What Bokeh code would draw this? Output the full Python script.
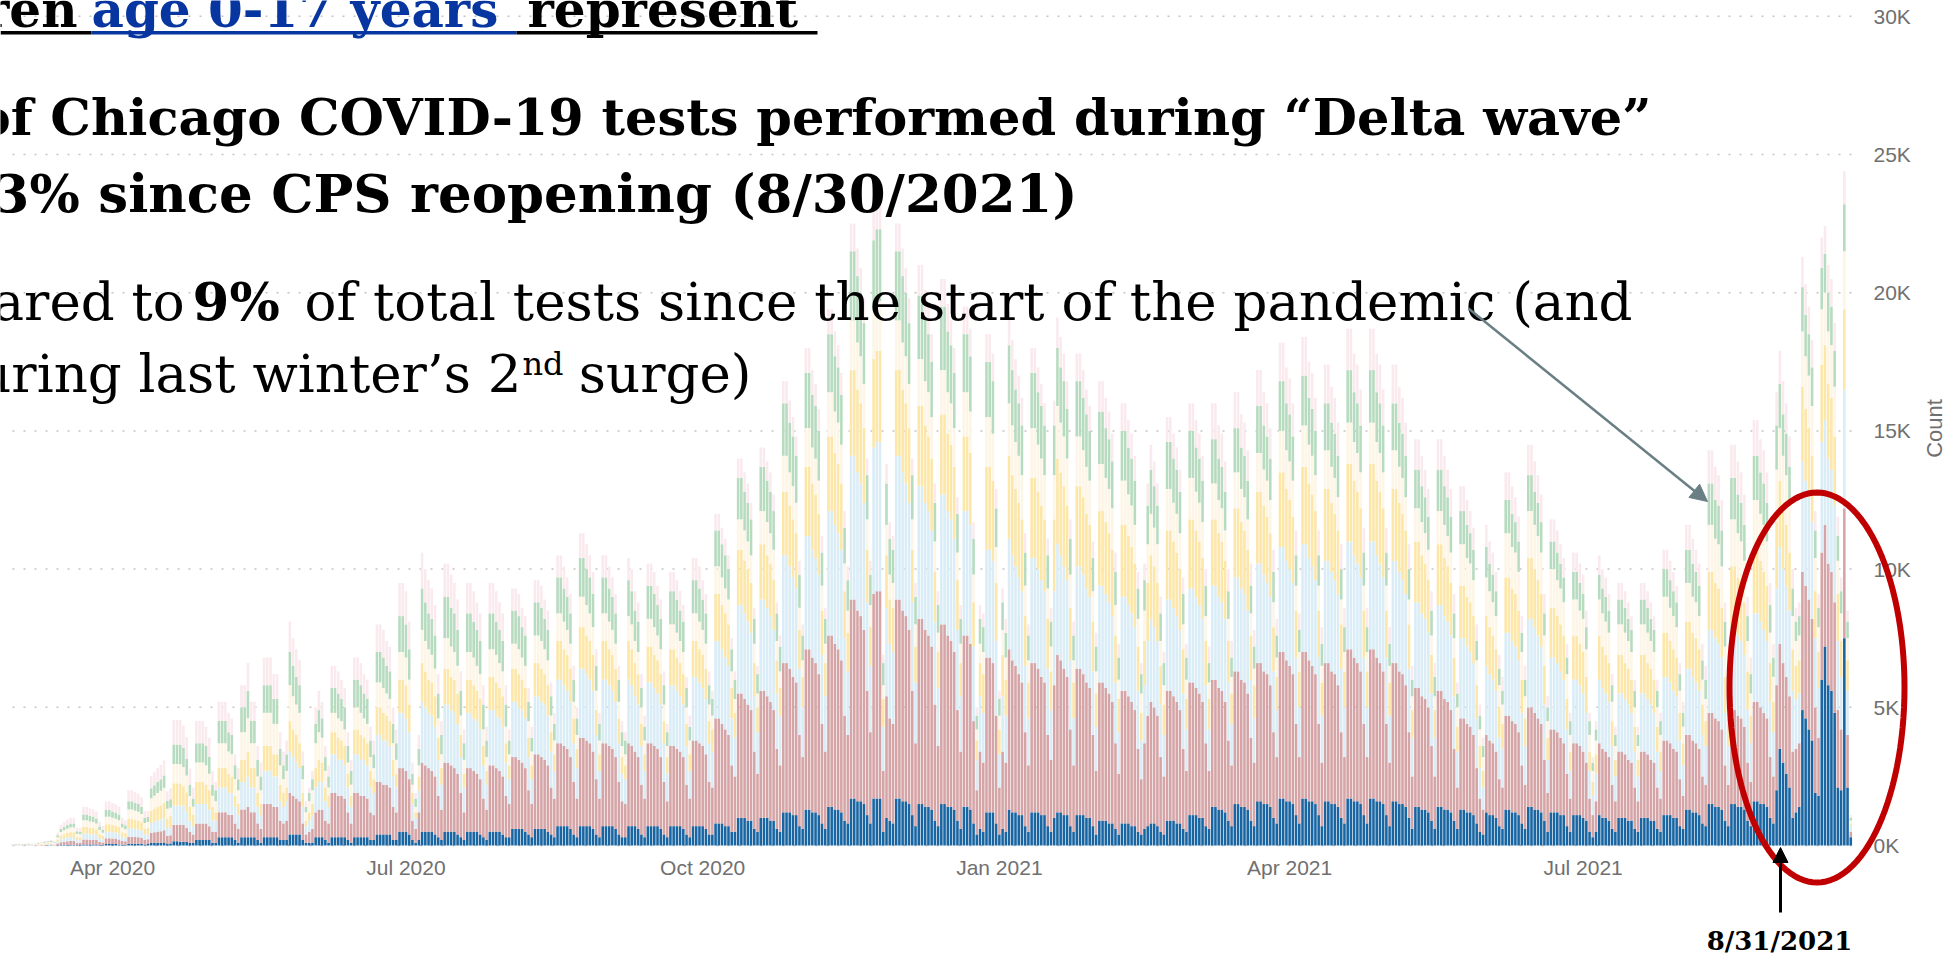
import math
from datetime import datetime, timedelta
from bokeh.plotting import figure
from bokeh.models import (ColumnDataSource, FixedTicker, DatetimeTickFormatter, CustomJSTickFormatter,
                          Label, Arrow, NormalHead, PolyAnnotation, BoxAnnotation, Range1d)
from bokeh.embed import file_html
from bokeh.resources import INLINE

first_day = datetime(2020, 3, 1)
age_groups = ["0-17", "18-29", "30-39", "40-49", "50-59", "60-69", "70+"]
colors = ["#1865a2", "#d5a4a6", "#daedf7", "#fce6a8", "#fdf5e6", "#b7dbbf", "#faeaee"]
tick_dates = [datetime(2020, 4, 1), datetime(2020, 7, 1), datetime(2020, 10, 1),
              datetime(2021, 1, 1), datetime(2021, 4, 1), datetime(2021, 7, 1)]
count_ticks = [0, 5000, 10000, 15000, 20000, 25000, 30000]

# daily tests, in hundreds, one row per week (Sun..Sat), from 2020-03-01
age_0_17 = [
0,0,0,0,0,0,0,
0,0,0,0,.1,.1,0,
.1,.2,.3,.3,.3,.3,.2,
.2,.4,.4,.4,.4,.4,.2,
.2,.5,.5,.5,.5,.4,.3,
.3,.6,.6,.6,.6,.5,.4,
.5,.9,1,1,1,1.1,.7,
.7,1.5,1.5,1.4,1.4,1.3,.9,
1,2,2,2,2,2,1,
1,3,3,3,3,3,2,
1,3,3,3,3,3,2,
1,3,3,3,3,3,2,
2,2,4,4,4,4,2,
1,1,1,3,3,3,2,
1,3,3,3,3,3,2,
1,3,3,3,3,3,2,
2,4,4,4,4,4,2,
2,5,5,5,4,2,1,
2,5,5,5,5,4,3,
2,5,5,5,5,4,3,
2,5,5,5,5,4,3,
2,5,5,5,5,4,3,
3,6,6,6,6,5,4,
3,6,6,6,6,5,4,
3,7,7,7,7,6,4,
3,7,7,7,7,6,4,
3,7,7,7,7,6,4,
3,3,7,7,7,6,4,
3,7,7,7,7,6,4,
3,7,7,7,7,6,4,
3,7,7,7,7,6,4,
4,8,8,8,7,7,5,
5,10,10,10,9,9,6,
5,10,10,10,9,9,6,
5,12,12,12,11,11,7,
6,13,13,12,12,11,8,
6,14,14,13,13,12,9,
8,17,17,16,16,15,11,
8,17,17,17,5,10,9,
8,17,17,16,16,15,11,
7,15,15,14,14,13,9,
7,15,15,14,14,13,9,
6,14,14,13,8,4,6,
5,12,12,12,8,4,6,
5,13,12,12,11,11,7,
5,12,12,12,11,11,7,
5,10,12,12,11,11,7,
5,11,11,11,10,10,7,
4,9,9,9,8,8,6,
4,8,8,8,7,7,5,
4,6,7,8,8,7,5,
4,9,9,9,8,8,6,
5,11,11,11,10,10,7,
6,14,14,13,13,12,9,
7,15,15,14,14,13,9,
7,16,16,15,15,14,10,
8,17,17,16,16,15,11,
8,17,17,16,16,15,11,
7,16,16,15,15,14,10,
8,17,17,16,16,15,11,
8,17,17,16,16,15,11,
7,16,16,15,15,14,10,
6,14,14,13,13,12,9,
6,14,14,13,13,12,9,
6,13,13,12,12,11,8,
5,4,12,11,11,10,7,
6,13,13,12,12,11,8,
6,14,14,13,13,12,9,
5,12,12,12,11,11,7,
5,11,11,11,10,9,5,
3,5,11,10,10,9,6,
5,10,10,10,9,9,6,
5,10,10,10,9,9,6,
5,11,11,11,10,10,7,
6,13,13,12,12,11,8,
7,15,15,14,14,13,9,
7,15,15,14,14,13,9,
7,16,16,15,15,14,10,
8,20,35,30,26,21,10,
12,14,49,46,42,38,19,
18,60,72,58,56,48,21,
20,75,21,3]

age_18_29 = [
0,.1,.1,.1,.1,.1,.1,
.1,.1,.2,.2,.2,.3,.2,
.6,1,1.1,1.2,1.3,1.3,.8,
.8,1.8,1.8,1.7,1.7,1.6,1.1,
.9,2.1,2.1,2,2,1.8,1.3,
1.2,2.6,2.6,2.5,2.4,2.3,1.6,
1.8,3.6,3.8,4,4.2,4.4,2.8,
3,6,6,6,6,5,4,
3,6,6,6,6,5,4,
4,9,9,9,8,8,6,
5,10,10,11,9,9,6,
5,12,12,12,11,11,7,
6,7,15,14,13,12,6,
3,4,5,9,10,10,7,
7,16,16,15,15,14,10,
7,16,16,15,15,14,10,
9,19,19,18,18,17,12,
10,23,23,22,20,7,5,
10,25,24,23,22,21,15,
11,25,25,24,23,22,16,
10,23,23,22,21,20,14,
11,24,24,23,22,21,15,
12,26,26,25,24,23,16,
12,27,27,26,25,24,17,
14,30,30,29,28,26,19,
14,32,32,31,30,28,20,
14,30,30,29,28,26,19,
13,12,30,29,27,26,18,
14,30,30,29,28,26,19,
13,29,29,28,27,26,18,
14,31,31,30,29,27,19,
17,38,38,36,35,33,24,
20,45,45,43,42,40,28,
21,46,46,44,43,40,29,
24,54,54,52,50,48,33,
26,58,58,56,54,51,36,
28,62,62,60,58,55,38,
32,72,72,69,67,63,45,
33,74,75,75,22,44,37,
36,72,72,69,67,63,45,
30,67,67,64,62,59,42,
29,65,65,62,60,57,40,
28,62,62,60,37,16,28,
25,56,56,54,39,17,28,
25,58,55,53,51,48,34,
24,54,54,52,50,48,33,
26,48,57,55,53,50,35,
24,53,53,51,49,47,33,
23,50,50,48,47,44,31,
22,48,48,46,45,42,30,
20,31,40,44,42,40,27,
21,47,47,45,44,41,29,
22,48,48,46,45,42,30,
21,46,46,44,43,40,29,
22,48,48,46,45,42,30,
23,50,50,48,47,44,31,
24,53,53,51,49,47,33,
24,53,53,51,49,47,33,
23,50,50,48,47,44,31,
24,54,54,52,50,48,33,
24,54,54,52,50,48,33,
23,50,50,48,47,44,31,
19,43,43,41,40,38,27,
19,42,42,40,39,37,26,
15,33,33,32,31,29,20,
12,9,28,27,26,24,17,
15,34,34,33,32,30,21,
16,36,36,35,33,32,22,
14,30,30,29,28,26,19,
12,26,26,25,24,21,12,
8,11,26,25,24,23,16,
11,24,24,23,22,21,15,
11,24,24,23,22,21,15,
12,27,27,26,25,24,17,
12,27,27,26,25,24,17,
15,33,33,32,31,29,20,
15,34,34,33,32,30,21,
16,36,36,35,33,32,22,
17,38,38,36,35,33,24,
23,23,50,48,47,44,31,
21,46,44,44,43,40,28,
22,47,19,2]

age_30_39 = [
0,.1,.1,.1,.1,.1,.1,
.1,.2,.2,.2,.3,.3,.2,
.7,1.1,1.3,1.4,1.5,1.5,1,
.9,2.1,2.1,2,2,1.8,1.3,
1.1,2.4,2.4,2.3,2.2,2.1,1.5,
1.4,3,3,2.9,2.8,2.6,1.9,
1.8,3.6,3.8,4,4.2,4.4,2.8,
3,7,7,7,7,6,4,
3,7,7,7,7,6,4,
4,9,9,9,8,8,6,
5,10,10,11,9,9,6,
5,12,12,12,11,11,7,
6,7,15,14,13,12,6,
3,4,5,9,10,10,7,
6,14,14,13,13,12,9,
6,14,14,13,13,12,9,
8,17,17,16,16,15,11,
9,20,20,19,17,6,4,
8,22,21,20,20,18,13,
9,21,21,20,20,18,13,
9,20,20,19,19,18,12,
9,20,20,19,19,18,12,
9,20,20,19,19,18,12,
9,21,21,20,20,18,13,
10,23,23,22,21,20,14,
11,25,25,24,23,22,16,
10,23,23,22,21,20,14,
10,9,23,22,20,19,14,
10,22,22,21,20,19,14,
10,22,22,21,20,19,14,
10,23,23,22,21,20,14,
13,28,28,27,26,25,17,
14,32,32,31,30,28,20,
15,33,33,32,31,29,20,
18,39,39,37,36,34,24,
18,41,41,39,38,36,25,
20,45,45,43,42,40,28,
23,52,52,50,48,46,32,
24,53,54,54,16,32,27,
26,52,52,50,48,46,32,
22,48,48,46,45,42,30,
21,47,47,45,44,41,29,
20,45,45,43,27,11,20,
18,39,39,37,27,12,20,
17,40,38,36,35,33,24,
17,38,38,36,35,33,24,
18,34,40,38,37,35,25,
17,37,37,36,34,33,23,
16,35,35,34,33,31,22,
15,34,34,33,32,30,21,
14,21,27,30,29,27,19,
15,33,33,32,31,29,20,
15,34,34,33,32,30,21,
15,34,34,33,32,30,21,
15,34,34,33,32,30,21,
16,36,36,35,33,32,22,
17,38,38,36,35,33,24,
18,39,39,37,36,34,24,
17,37,37,36,34,33,23,
18,39,39,37,36,34,24,
18,39,39,37,36,34,24,
17,37,37,36,34,33,23,
14,31,31,30,29,27,19,
14,31,31,30,29,27,19,
13,29,29,28,27,26,18,
11,8,25,24,23,22,15,
14,30,30,29,28,26,19,
14,32,32,31,30,28,20,
12,26,26,25,24,23,16,
10,23,23,22,21,18,10,
7,10,23,22,21,20,14,
9,21,21,20,20,18,13,
9,21,21,20,20,18,13,
10,23,23,22,21,20,14,
11,24,24,23,22,21,15,
14,30,30,29,28,26,19,
14,30,30,29,28,26,19,
14,32,32,31,30,28,20,
16,35,35,34,33,31,22,
18,18,40,38,37,35,25,
18,40,38,38,37,35,25,
19,43,16,2]

age_40_49 = [
.1,.1,.1,.1,.1,.1,.1,
.1,.2,.2,.3,.3,.3,.2,
.8,1.3,1.4,1.6,1.7,1.7,1.1,
1.1,2.4,2.4,2.3,2.2,2.1,1.5,
1.2,2.7,2.7,2.6,2.5,2.4,1.7,
1.5,3.4,3.4,3.3,3.2,3,2.1,
2.2,4.5,4.7,5,5.2,5.5,3.5,
4,8,8,8,7,7,5,
4,8,8,8,7,7,5,
3,7,7,7,7,6,4,
4,8,8,9,7,7,5,
4,9,9,9,8,8,6,
5,5,11,10,10,9,5,
2,3,4,7,8,7,5,
4,8,8,8,7,7,5,
4,9,9,9,8,8,6,
5,10,10,10,9,9,6,
5,12,12,12,10,4,2,
5,14,13,12,12,11,8,
6,13,13,12,12,11,8,
5,12,12,12,11,11,7,
5,12,12,12,11,11,7,
5,12,12,12,11,11,7,
5,12,12,12,11,11,7,
6,14,14,13,13,12,9,
7,15,15,14,14,13,9,
6,14,14,13,13,12,9,
6,5,14,13,12,11,8,
6,13,13,12,12,11,8,
6,13,13,12,12,11,8,
6,13,13,12,12,11,8,
8,17,17,16,16,15,11,
9,20,20,19,19,18,12,
9,20,20,19,19,18,12,
10,23,23,22,21,20,14,
11,25,25,24,23,22,16,
12,27,27,26,25,24,17,
14,31,31,30,29,27,19,
14,32,33,33,10,19,16,
16,31,31,30,29,27,19,
13,29,29,28,27,26,18,
13,29,29,28,27,26,18,
12,27,27,26,16,7,12,
14,30,30,29,21,9,15,
13,30,29,28,27,26,18,
13,29,29,28,27,26,18,
14,26,31,30,29,27,19,
13,29,29,28,27,26,18,
12,27,27,26,25,24,17,
12,26,26,25,24,23,16,
10,16,21,23,22,21,14,
11,25,25,24,23,22,16,
11,25,25,24,23,22,16,
11,24,24,23,22,21,15,
11,25,25,24,23,22,16,
12,26,26,25,24,23,16,
12,27,27,26,25,24,17,
13,28,28,27,26,25,17,
12,26,26,25,24,23,16,
13,28,28,27,26,25,17,
13,28,28,27,26,25,17,
12,26,26,25,24,23,16,
10,22,22,21,20,19,14,
10,22,22,21,20,19,14,
9,19,19,18,18,17,12,
8,6,18,17,16,15,11,
9,20,20,19,19,18,12,
10,22,22,21,20,19,14,
8,18,18,17,17,16,11,
7,16,16,15,15,13,7,
5,7,16,15,14,14,9,
6,14,14,13,13,12,9,
6,14,14,13,13,12,9,
7,16,16,15,15,14,10,
8,17,17,16,16,15,11,
9,21,21,20,20,18,13,
10,22,22,21,20,19,14,
10,23,23,22,21,20,14,
11,24,24,23,22,21,15,
12,12,27,26,25,24,17,
13,28,27,27,26,25,17,
13,29,11,1]

age_50_59 = [
.1,.1,.1,.1,.1,.1,.1,
.2,.2,.3,.3,.3,.3,.3,
.8,1.3,1.4,1.6,1.7,1.7,1.1,
1.1,2.4,2.4,2.3,2.2,2.1,1.5,
1.2,2.7,2.7,2.6,2.5,2.4,1.7,
1.5,3.4,3.4,3.3,3.2,3,2.1,
2.2,4.5,4.7,5,5.2,5.5,3.5,
3,7,7,7,7,6,4,
3,7,7,7,7,6,4,
4,9,9,9,8,8,6,
5,10,10,12,9,9,6,
5,12,12,12,11,11,7,
5,6,13,12,11,11,5,
3,4,5,9,10,9,6,
3,7,7,7,7,6,4,
4,8,8,8,7,7,5,
4,9,9,9,8,8,6,
5,10,10,10,9,3,2,
4,12,11,11,10,10,7,
5,11,11,11,10,10,7,
5,10,10,10,9,9,6,
5,10,10,10,9,9,6,
4,9,9,9,8,8,6,
5,10,10,10,9,9,6,
5,10,10,10,9,9,6,
5,11,11,11,10,10,7,
5,10,10,10,9,9,6,
4,4,9,9,8,8,6,
5,10,10,10,9,9,6,
4,9,9,9,8,8,6,
5,10,10,10,9,9,6,
5,10,10,10,9,9,6,
5,11,11,11,10,10,7,
5,12,12,12,11,11,7,
6,13,13,12,12,11,8,
6,14,14,13,13,12,9,
7,16,16,15,15,14,10,
8,18,18,17,17,16,11,
8,18,18,18,5,11,9,
9,18,18,17,17,16,11,
8,17,17,16,16,15,11,
7,16,16,15,15,14,10,
7,16,16,15,10,4,7,
8,18,18,17,13,5,9,
8,19,18,17,17,16,11,
8,18,18,17,17,16,11,
9,16,19,18,18,17,12,
8,18,18,17,17,16,11,
8,17,17,16,16,15,11,
7,16,16,15,15,14,10,
7,11,14,15,14,14,9,
7,15,15,14,14,13,9,
7,15,15,14,14,13,9,
6,13,13,12,12,11,8,
6,13,13,12,12,11,8,
6,14,14,13,13,12,9,
7,15,15,14,14,13,9,
7,15,15,14,14,13,9,
6,14,14,13,13,12,9,
7,15,15,14,14,13,9,
7,15,15,14,14,13,9,
6,14,14,13,13,12,9,
5,12,12,12,11,11,7,
5,12,12,12,11,11,7,
7,15,15,14,14,13,9,
6,5,14,13,12,12,8,
7,16,16,15,15,14,10,
8,17,17,16,16,15,11,
6,14,14,13,13,12,9,
6,13,13,12,12,10,6,
4,5,13,12,12,11,7,
5,11,11,11,10,10,7,
5,11,11,11,10,10,7,
6,13,13,12,12,11,8,
6,14,14,13,13,12,9,
8,17,17,16,16,15,11,
8,17,17,16,16,15,11,
8,18,18,17,17,16,11,
9,19,19,18,18,17,12,
9,9,20,19,19,18,12,
9,20,19,19,19,18,12,
10,21,8,1]

age_60_69 = [
.1,.1,.1,.1,.1,.2,.1,
.1,.2,.2,.3,.3,.3,.3,
.7,1.1,1.3,1.4,1.5,1.5,1,
.9,2.1,2.1,2,2,1.8,1.3,
1.1,2.4,2.4,2.3,2.2,2.1,1.5,
1.4,3,3,2.9,2.8,2.6,1.9,
1.8,3.6,3.8,4,4.2,4.4,2.8,
3,7,7,7,7,6,4,
3,7,7,7,7,6,4,
4,8,8,8,7,7,5,
4,9,9,10,8,8,6,
5,10,10,10,9,9,6,
5,6,12,11,10,10,5,
2,3,4,7,8,7,5,
4,9,9,9,8,8,6,
5,10,10,10,9,9,6,
5,11,11,11,10,10,7,
6,13,13,12,11,4,3,
6,15,14,13,13,12,9,
7,15,15,14,14,13,9,
6,14,14,13,13,12,9,
6,13,13,12,12,11,8,
5,12,12,12,11,11,7,
5,12,12,12,11,11,7,
6,13,13,12,12,11,8,
6,14,14,13,13,12,9,
6,13,13,12,12,11,8,
5,5,13,12,11,11,7,
5,12,12,12,11,11,7,
5,12,12,12,11,11,7,
5,12,12,12,11,11,7,
6,13,13,12,12,11,8,
7,15,15,14,14,13,9,
7,16,16,15,15,14,10,
9,19,19,18,18,17,12,
9,20,20,19,19,18,12,
9,21,21,20,20,18,13,
11,25,25,24,23,22,16,
11,25,26,26,8,15,13,
12,25,25,24,23,22,16,
10,23,23,22,21,20,14,
10,23,23,22,21,20,14,
9,21,21,20,13,5,9,
9,20,20,19,14,6,10,
9,21,20,19,19,18,12,
9,20,20,19,19,18,12,
9,18,21,20,20,18,13,
9,20,20,19,19,18,12,
9,19,19,18,18,17,12,
8,18,18,17,17,16,11,
7,11,14,16,15,14,10,
8,17,17,16,16,15,11,
8,17,17,16,16,15,11,
7,16,16,15,15,14,10,
7,16,16,15,15,14,10,
8,17,17,16,16,15,11,
8,18,18,17,17,16,11,
8,18,18,17,17,16,11,
8,17,17,16,16,15,11,
9,19,19,18,18,17,12,
9,19,19,18,18,17,12,
8,17,17,16,16,15,11,
6,14,14,13,13,12,9,
7,15,15,14,14,13,9,
5,12,12,12,11,11,7,
5,4,11,10,10,9,6,
5,12,12,12,11,11,7,
6,13,13,12,12,11,8,
5,10,10,10,9,9,6,
5,10,10,10,9,8,5,
3,4,9,9,9,8,6,
4,9,9,9,8,8,6,
4,9,9,9,8,8,6,
5,10,10,10,9,9,6,
5,12,12,12,11,11,7,
7,15,15,14,14,13,9,
7,15,15,14,14,13,9,
7,16,16,15,15,14,10,
7,16,16,15,15,14,10,
7,7,16,15,15,14,10,
7,15,14,14,14,13,9,
8,17,6,1]

age_70_plus = [
.1,.1,.1,.1,.2,.2,.1,
.2,.3,.3,.3,.3,.4,.3,
.9,1.5,1.7,1.9,2,2,1.3,
1.3,2.8,2.8,2.7,2.6,2.5,1.7,
1.4,3.2,3.2,3.1,3,2.8,2,
1.8,4,4,3.8,3.7,3.5,2.5,
2.2,4.5,4.7,5,5.2,5.5,3.5,
4,9,9,9,8,8,6,
4,8,8,8,7,7,5,
3,7,7,7,7,6,4,
4,8,8,10,7,7,5,
5,10,10,10,9,9,6,
5,5,11,10,10,9,5,
2,2,3,6,7,6,4,
4,8,8,8,7,7,5,
4,8,8,8,7,7,5,
5,10,10,10,9,9,6,
5,12,12,12,10,4,2,
5,13,12,12,11,11,7,
5,12,12,12,11,11,7,
5,11,11,11,10,10,7,
5,11,11,11,10,10,7,
4,8,8,8,7,7,5,
4,8,8,8,7,7,5,
4,8,8,8,7,7,5,
4,9,9,9,8,8,6,
4,8,8,8,7,7,5,
4,3,8,8,7,7,5,
4,8,8,8,7,7,5,
3,7,7,7,7,6,4,
4,8,8,8,7,7,5,
3,6,6,6,6,5,4,
3,7,7,7,7,6,4,
3,7,7,7,7,6,4,
4,8,8,8,7,7,5,
4,9,9,9,8,8,6,
4,9,9,9,8,8,6,
5,10,10,10,9,9,6,
5,11,11,11,3,7,6,
5,10,10,10,9,9,6,
5,11,11,11,10,10,7,
5,10,10,10,9,9,6,
5,10,10,10,6,3,5,
5,10,10,10,7,3,5,
5,12,11,11,10,10,7,
4,9,9,9,8,8,6,
5,9,11,11,10,10,7,
5,10,10,10,9,9,6,
5,11,11,11,10,10,7,
5,10,10,10,9,9,6,
4,6,8,9,9,8,6,
4,9,9,9,8,8,6,
5,10,10,10,9,9,6,
6,13,13,12,12,11,8,
6,13,13,12,12,11,8,
6,13,13,12,12,11,8,
6,14,14,13,13,12,9,
6,14,14,13,13,12,9,
6,14,14,13,13,12,9,
7,15,15,14,14,13,9,
7,15,15,14,14,13,9,
6,14,14,13,13,12,9,
5,11,11,11,10,10,7,
5,11,11,11,10,10,7,
4,9,9,9,8,8,6,
4,3,8,8,8,7,5,
5,10,10,10,9,9,6,
5,11,11,11,10,10,7,
4,8,8,8,7,7,5,
3,7,7,7,7,6,3,
2,3,7,7,7,6,4,
3,6,6,6,6,5,4,
3,6,6,6,6,5,4,
3,7,7,7,7,6,4,
4,9,9,9,8,8,6,
5,12,12,12,11,11,7,
5,12,12,12,11,11,7,
6,13,13,12,12,11,8,
5,12,12,12,11,11,7,
5,5,11,11,10,10,7,
5,11,10,10,10,10,7,
5,12,4,1]

series = [age_0_17, age_18_29, age_30_39, age_40_49, age_50_59, age_60_69, age_70_plus]
n = min(len(s) for s in series)
data = {"date": [first_day + timedelta(days=i) for i in range(n)]}
for name, s in zip(age_groups, series):
    data[name] = [v * 100 for v in s[:n]]
source = ColumnDataSource(data)

W, H = 1946, 957
MS_DAY = 86400000.0
EPOCH = datetime(1970, 1, 1)
def ms(dt):
    return (dt - EPOCH).total_seconds() * 1000.0
# layout helpers: page pixel -> data coordinates (used only to place annotations)
def X(px):
    return ms(first_day) + (31 + (px - 112) / 3.225) * MS_DAY
def Y(py):
    return (845 - py) * 36.18

p = figure(width=W, height=H, x_axis_type="datetime", y_axis_location="right",
           x_range=Range1d(X(0), X(W)), y_range=Range1d(Y(H), Y(0)),
           output_backend="svg", toolbar_location=None,
           min_border_left=0, min_border_right=0, min_border_top=0, min_border_bottom=0)
p.outline_line_color = None
p.background_fill_color = "white"
p.border_fill_color = "white"
p.xgrid.visible = False
p.ygrid.visible = False

# dotted horizontal grid at the count ticks, spanning the plotting area
p.segment(x0=[X(12)] * len(count_ticks), x1=[X(1856)] * len(count_ticks), y0=count_ticks, y1=count_ticks,
          line_color="#c4c4c4", line_dash="2 9", line_width=1.5)

p.vbar_stack(age_groups, x="date", width=0.8 * MS_DAY, fill_color=colors, line_color=None, source=source)

xa = p.xaxis[0]
xa.fixed_location = 0
xa.ticker = FixedTicker(ticks=[ms(d) for d in tick_dates])
xa.formatter = DatetimeTickFormatter(years="%b %Y", months="%b %Y", days="%b %Y")
xa.axis_line_color = None
xa.major_tick_line_color = None
xa.minor_tick_line_color = None
xa.major_tick_out = 0
xa.major_tick_in = 0
xa.major_label_text_font = "Liberation Sans"
xa.major_label_text_font_size = "21px"
xa.major_label_text_color = "#707070"
xa.major_label_standoff = 10

ya = p.yaxis[0]
ya.fixed_location = X(1856)
ya.ticker = FixedTicker(ticks=count_ticks)
ya.formatter = CustomJSTickFormatter(code="return (tick/1000).toFixed(0) + 'K';")
ya.axis_line_color = None
ya.major_tick_line_color = None
ya.minor_tick_line_color = None
ya.major_tick_out = 0
ya.major_tick_in = 0
ya.major_label_text_font = "Liberation Sans"
ya.major_label_text_font_size = "21px"
ya.major_label_text_color = "#707070"
ya.major_label_standoff = 17

p.add_layout(Label(x=X(1934), y=Y(428), text="Count", angle=math.pi / 2, text_align="center",
                   text_baseline="middle", text_font="Liberation Sans", text_font_size="22px",
                   text_color="#707070"))

SERIF = "DejaVu Serif"
BLUE_TXT = "#0836a0"
def lab(px, base, text, size, bold=False, align="left", color="black"):
    # base = wanted baseline (page px); text is drawn ~0.36em below the anchor
    p.add_layout(Label(x=X(px), y=Y(base - 0.36 * size), text=text, text_font=SERIF,
                       text_font_size=f"{size}px", text_font_style="bold" if bold else "normal",
                       text_align=align, text_baseline="alphabetic", text_color=color))

lab(77, 27, "ren", 50, True, "right")
lab(91, 27, "age 0-17 years", 50, True, "left", BLUE_TXT)
lab(527, 27, "represent", 50, True, "left")
for l, r, c in [(0, 91, "black"), (91, 516, BLUE_TXT), (516, 817, "black")]:
    p.add_layout(BoxAnnotation(left=X(l), right=X(r), top=Y(30.5), bottom=Y(34),
                               fill_color=c, fill_alpha=1, line_color=None, line_alpha=0))
lab(1651, 135, "of Chicago COVID-19 tests performed during \u201cDelta wave\u201d", 51, True, "right")
lab(1077, 212, "3% since CPS reopening (8/30/2021)", 53, True, "right")
lab(-8, 320, "ared to", 53, False, "left")
lab(192, 320, "9%", 53, True, "left")
lab(1632, 320, "of total tests since the start of the pandemic (and", 53, False, "right")
lab(751, 392, "surge)", 53, False, "right")
lab(563, 375, "nd", 32, False, "right")
lab(521, 392, "uring last winter\u2019s 2", 53, False, "right")

p.add_layout(Arrow(end=NormalHead(size=17, fill_color="#6a7f85", line_color="#6a7f85"),
                   x_start=X(1468), y_start=Y(308), x_end=X(1707), y_end=Y(501),
                   line_color="#6a7f85", line_width=2.5))

cx, cy, a, b = 1816.5, 687, 87.5, 195
ts = [2 * math.pi * k / 120 for k in range(121)]
p.add_layout(PolyAnnotation(xs=[X(cx + a * math.cos(t)) for t in ts], ys=[Y(cy + b * math.sin(t)) for t in ts],
                            line_color="#c00000", line_alpha=1, line_width=6, fill_color=None, fill_alpha=0))

p.add_layout(Arrow(end=NormalHead(size=15, fill_color="black", line_color="black"),
                   x_start=X(1780), y_start=Y(912), x_end=X(1780), y_end=Y(847),
                   line_color="black", line_width=3))
lab(1779, 950, "8/31/2021", 26, True, "center")

open("out.html", "w").write(file_html(p, INLINE))
